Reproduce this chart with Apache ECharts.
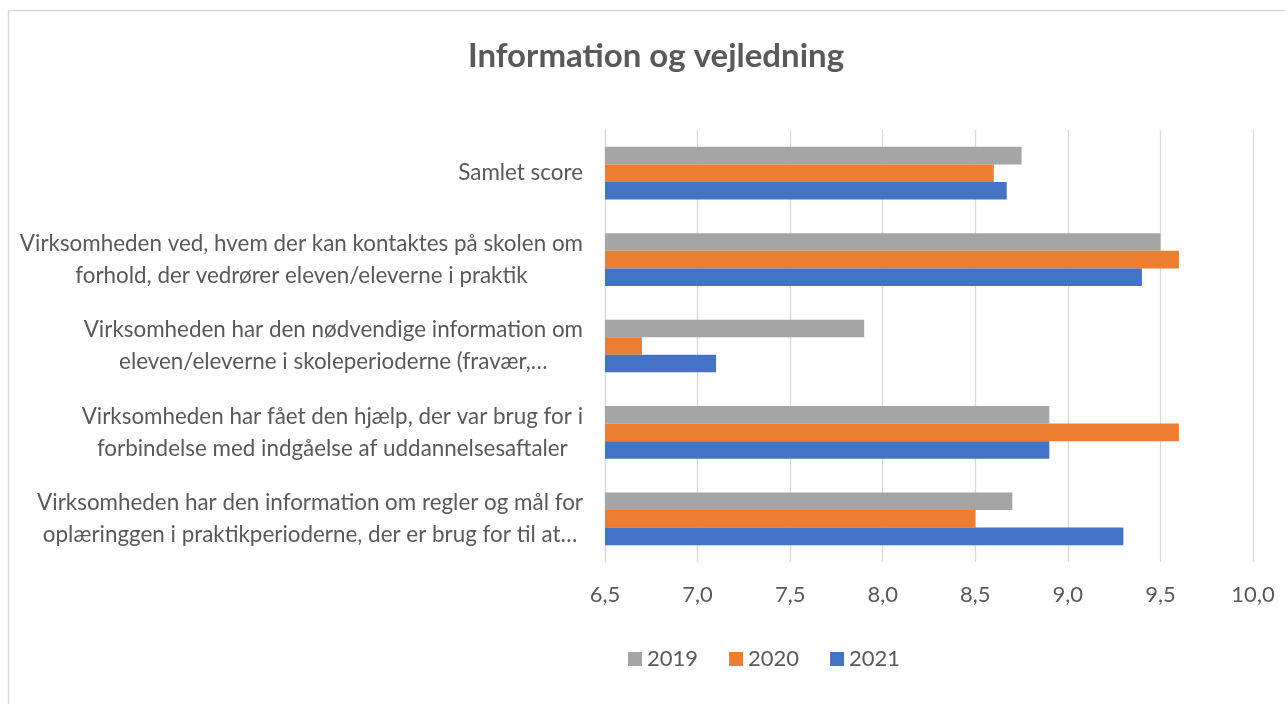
<!DOCTYPE html>
<html>
<head>
<meta charset="utf-8">
<script src="https://cdn.jsdelivr.net/npm/echarts@6/dist/echarts.min.js"></script>
<style>
  html, body { margin: 0; padding: 0; background: #fff; }
  #chart { width: 1285px; height: 704px; }
</style>
</head>
<body>
<div id="chart"></div>
<script>
const categories = [
  "Samlet score",
  "Virksomheden ved, hvem der kan kontaktes på skolen om\nforhold, der vedrører eleven/eleverne i praktik",
  "Virksomheden har den nødvendige information om\neleven/eleverne i skoleperioderne (fravær,…",
  "Virksomheden har fået den hjælp, der var brug for i\nforbindelse med indgåelse af uddannelsesaftaler",
  "Virksomheden har den information om regler og mål for\noplæringgen i praktikperioderne, der er brug for til at…"
];
const seriesNames = ["2019", "2020", "2021"];
const values2019 = [8.75, 9.5, 7.9, 8.9, 8.7];
const values2020 = [8.6, 9.6, 6.7, 9.6, 8.5];
const values2021 = [8.67, 9.4, 7.1, 8.9, 9.3];
const colors = ["#A5A5A5", "#ED7D31", "#4472C4"];

const FONT = "Lato, 'Liberation Sans', sans-serif";
const chart = echarts.init(document.getElementById('chart'));
const allValues = [values2019, values2020, values2021];

chart.setOption({
  animation: false,
  title: {
    text: "Information og vejledning",
    left: 651,
    top: 35,
    textAlign: 'center',
    textStyle: { fontFamily: FONT, fontSize: 33, fontWeight: 'bold', color: '#595959' }
  },
  legend: {
    data: seriesNames,
    left: 623,
    top: 643,
    icon: 'rect',
    itemWidth: 14,
    itemHeight: 14,
    itemGap: 31,
    textStyle: { fontFamily: FONT, fontSize: 22, color: '#595959' }
  },
  grid: { left: 605, right: 32, top: 130, bottom: 142, containLabel: false },
  xAxis: {
    type: 'value',
    min: 6.5,
    max: 10,
    interval: 0.5,
    axisLine: { show: false },
    axisTick: { show: false },
    splitLine: { show: true, lineStyle: { color: '#d9d9d9', width: 1.3 } },
    axisLabel: {
      margin: 22,
      fontFamily: FONT, fontSize: 22, color: '#595959',
      formatter: v => v.toFixed(1).replace('.', ',')
    }
  },
  yAxis: {
    type: 'category',
    inverse: true,
    data: categories,
    axisLine: { show: true, lineStyle: { color: '#d9d9d9', width: 1.3 } },
    axisTick: { show: false },
    axisLabel: {
      margin: 22,
      align: 'right',
      formatter: v => v.split('\n').map(l => '{c|' + l + '}').join('\n'),
      rich: {
        c: { align: 'center', fontFamily: FONT, fontSize: 22.4, color: '#595959', lineHeight: 32 }
      }
    }
  },
  graphic: [{
    type: 'rect',
    shape: { x: 8.5, y: 10.5, width: 1300, height: 720 },
    style: { fill: 'none', stroke: '#d9d9d9', lineWidth: 1.5 },
    silent: true, z: -1
  }],
  series: seriesNames.map((name, i) => ({
    name: name,
    type: 'bar',
    data: allValues[i],
    barGap: '0%',
    barCategoryGap: '39%',
    itemStyle: { color: colors[i] }
  }))
});
</script>
</body>
</html>
